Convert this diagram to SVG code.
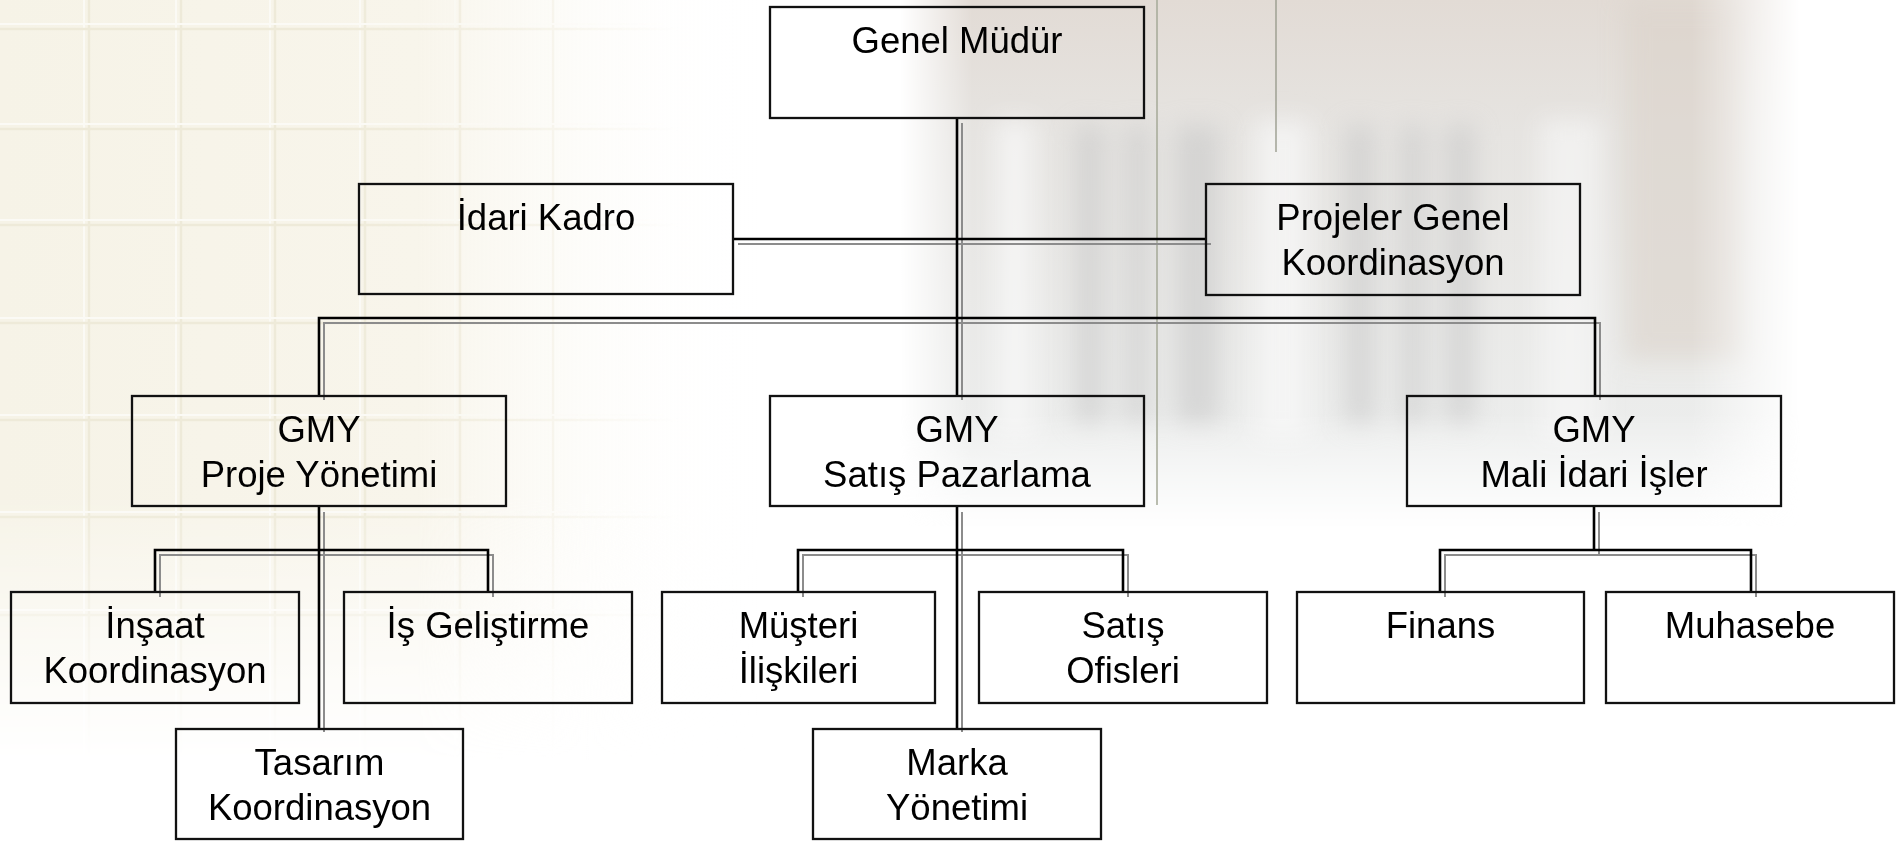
<svg xmlns="http://www.w3.org/2000/svg" width="1901" height="841" viewBox="0 0 1901 841">
<style>
.box{fill:none;stroke:#111;stroke-width:2.3}
.t{font-family:"Liberation Sans",Arial,sans-serif;font-size:36.5px;fill:#000;text-anchor:middle}
.k{fill:none;stroke:#000;stroke-width:2.6}
.g{fill:none;stroke:#8c8c8c;stroke-width:2}
.gl{stroke:#eeead9;stroke-width:2.5}
.gh{stroke:#fbfaf5;stroke-width:2}
</style>
<defs>
<linearGradient id="beigeH" x1="0" y1="0" x2="1" y2="0">
<stop offset="0" stop-color="#f6f3e7"/>
<stop offset="0.55" stop-color="#f8f5eb"/>
<stop offset="1" stop-color="#ffffff" stop-opacity="0"/>
</linearGradient>
<linearGradient id="fadeV" x1="0" y1="0" x2="0" y2="1">
<stop offset="0" stop-color="#fff"/>
<stop offset="0.65" stop-color="#fff"/>
<stop offset="1" stop-color="#000"/>
</linearGradient>
<mask id="mBeige" maskUnits="userSpaceOnUse" x="0" y="0" width="760" height="760">
<rect x="0" y="0" width="760" height="760" fill="url(#fadeV)"/>
</mask>
<linearGradient id="fadeGridH" x1="0" y1="0" x2="1" y2="0">
<stop offset="0" stop-color="#fff"/>
<stop offset="0.5" stop-color="#fff"/>
<stop offset="1" stop-color="#000"/>
</linearGradient>
<mask id="mGrid" maskUnits="userSpaceOnUse" x="0" y="0" width="680" height="760">
<rect x="0" y="0" width="680" height="760" fill="url(#fadeGridH)"/>
</mask>
<linearGradient id="bH" x1="0" y1="0" x2="1" y2="0">
<stop offset="0" stop-color="#000"/>
<stop offset="0.08" stop-color="#fff"/>
<stop offset="0.88" stop-color="#fff"/>
<stop offset="1" stop-color="#000"/>
</linearGradient>
<linearGradient id="bV" x1="0" y1="0" x2="0" y2="1">
<stop offset="0" stop-color="#fff"/>
<stop offset="0.78" stop-color="#fff"/>
<stop offset="1" stop-color="#000"/>
</linearGradient>
<mask id="mB1" maskUnits="userSpaceOnUse" x="900" y="0" width="900" height="530">
<rect x="900" y="0" width="900" height="530" fill="url(#bH)"/>
</mask>
<mask id="mB2" maskUnits="userSpaceOnUse" x="900" y="0" width="900" height="530">
<rect x="900" y="0" width="900" height="530" fill="url(#bV)"/>
</mask>
<linearGradient id="bldTop" x1="0" y1="0" x2="0" y2="1">
<stop offset="0" stop-color="#e2dbd5"/>
<stop offset="0.25" stop-color="#e6e4e1"/>
<stop offset="1" stop-color="#eef0f0"/>
</linearGradient>
<filter id="blur" x="-30%" y="-30%" width="160%" height="160%"><feGaussianBlur stdDeviation="12"/></filter>
</defs>

<g id="background">
<rect x="0" y="0" width="1901" height="841" fill="#fff"/>
<g mask="url(#mBeige)">
<rect x="0" y="0" width="760" height="760" fill="url(#beigeH)"/>
<g mask="url(#mGrid)">
<path class="gh" d="M84,0V760M176,0V760M270,0V760M360,0V760M455,0V760M548,0V760"/>
<path class="gl" d="M89,0V760M181,0V760M275,0V760M365,0V760M460,0V760M553,0V760"/>
<path class="gh" d="M0,24H680M0,124H680M0,220H680M0,318H680M0,415H680M0,512H680M0,610H680"/>
<path class="gl" d="M0,29H680M0,129H680M0,225H680M0,323H680M0,420H680M0,517H680M0,615H680"/>
</g>
</g>
<g mask="url(#mB1)">
<g mask="url(#mB2)">
<rect x="900" y="0" width="900" height="530" fill="url(#bldTop)"/>
<g filter="url(#blur)" fill="#c6c6c6" opacity="0.55">
<rect x="1075" y="125" width="30" height="300"/>
<rect x="1125" y="125" width="25" height="300"/>
<rect x="1175" y="125" width="45" height="300"/>
<rect x="1345" y="125" width="30" height="300"/>
<rect x="1400" y="125" width="25" height="300"/>
<rect x="1445" y="125" width="30" height="300"/>
</g>
<g filter="url(#blur)">
<rect x="1625" y="0" width="120" height="360" fill="#dad2ca" opacity="0.6"/>
<rect x="995" y="120" width="40" height="320" fill="#f8f8f8" opacity="0.7"/>
<rect x="1255" y="120" width="55" height="320" fill="#f8f8f8" opacity="0.7"/>
<rect x="1540" y="120" width="60" height="320" fill="#f8f8f8" opacity="0.6"/>
</g>
</g>
</g>
<path d="M1157,0V505" stroke="#a9ad9c" stroke-width="1.6" fill="none"/>
<path d="M1276,0V152" stroke="#9a9c8e" stroke-width="1.4" fill="none"/>
</g>

<g id="connectors">
<path class="g" d="M962,123V400M324,400V323H1600V400M738,244H1211"/>
<path class="k" d="M957,118V396M319,396V318H1595V396M733,239H1206"/>
<path class="g" d="M324,512V732M160,597V555H493V597"/>
<path class="k" d="M319,506V729M155,592V550H488V592"/>
<path class="g" d="M962,512V732M803,597V555H1128V597"/>
<path class="k" d="M957,506V729M798,592V550H1123V592"/>
<path class="g" d="M1599,512V555M1445,597V555H1756V597"/>
<path class="k" d="M1594,506V550M1440,592V550H1751V592"/>
</g>

<g id="genel-mudur"><rect class="box" x="770" y="7" width="374" height="111"/><text class="t" x="957" y="53">Genel Müdür</text></g>
<g id="idari-kadro"><rect class="box" x="359" y="184" width="374" height="110"/><text class="t" x="546" y="230">İdari Kadro</text></g>
<g id="projeler-genel"><rect class="box" x="1206" y="184" width="374" height="111"/><text class="t" x="1393" y="230">Projeler Genel</text><text class="t" x="1393" y="275">Koordinasyon</text></g>
<g id="gmy-proje"><rect class="box" x="132" y="396" width="374" height="110"/><text class="t" x="319" y="442">GMY</text><text class="t" x="319" y="487">Proje Yönetimi</text></g>
<g id="gmy-satis"><rect class="box" x="770" y="396" width="374" height="110"/><text class="t" x="957" y="442">GMY</text><text class="t" x="957" y="487">Satış Pazarlama</text></g>
<g id="gmy-mali"><rect class="box" x="1407" y="396" width="374" height="110"/><text class="t" x="1594" y="442">GMY</text><text class="t" x="1594" y="487">Mali İdari İşler</text></g>
<g id="insaat"><rect class="box" x="11" y="592" width="288" height="111"/><text class="t" x="155" y="638">İnşaat</text><text class="t" x="155" y="683">Koordinasyon</text></g>
<g id="is-gelistirme"><rect class="box" x="344" y="592" width="288" height="111"/><text class="t" x="488" y="638">İş Geliştirme</text></g>
<g id="tasarim"><rect class="box" x="176" y="729" width="287" height="110"/><text class="t" x="319.5" y="775">Tasarım</text><text class="t" x="319.5" y="820">Koordinasyon</text></g>
<g id="musteri"><rect class="box" x="662" y="592" width="273" height="111"/><text class="t" x="798.5" y="638">Müşteri</text><text class="t" x="798.5" y="683">İlişkileri</text></g>
<g id="satis-ofisleri"><rect class="box" x="979" y="592" width="288" height="111"/><text class="t" x="1123" y="638">Satış</text><text class="t" x="1123" y="683">Ofisleri</text></g>
<g id="marka"><rect class="box" x="813" y="729" width="288" height="110"/><text class="t" x="957" y="775">Marka</text><text class="t" x="957" y="820">Yönetimi</text></g>
<g id="finans"><rect class="box" x="1297" y="592" width="287" height="111"/><text class="t" x="1440.5" y="638">Finans</text></g>
<g id="muhasebe"><rect class="box" x="1606" y="592" width="288" height="111"/><text class="t" x="1750" y="638">Muhasebe</text></g>
</svg>
